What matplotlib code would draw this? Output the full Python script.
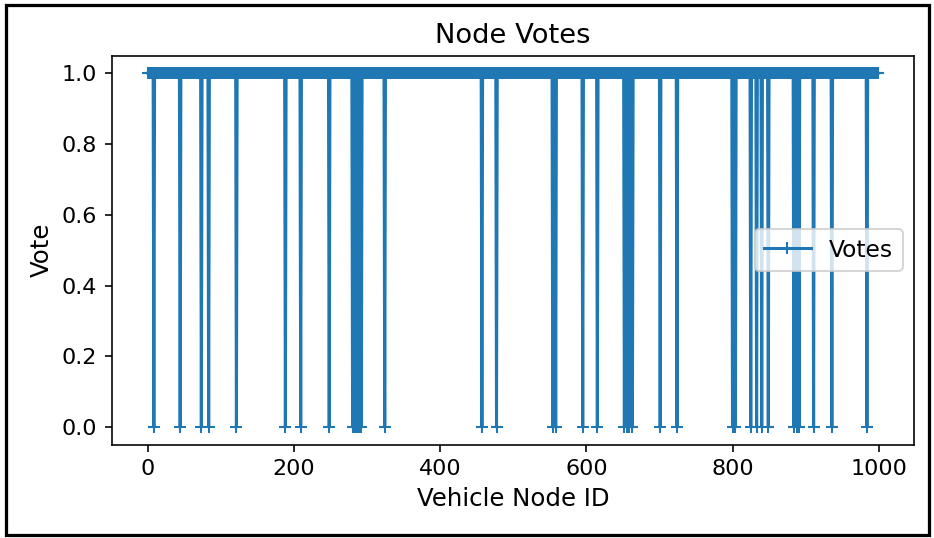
import numpy as np
import matplotlib
matplotlib.use("Agg")
import matplotlib.pyplot as plt
from matplotlib.patches import Rectangle

# node ids and the nodes that voted 0
node_ids = np.arange(1000)
zero_nodes = [8, 44, 73, 83, 121, 188, 209, 248, 280, 283, 286, 289, 292, 324,
              457, 477, 554, 558, 595, 615, 652, 656, 659, 663, 701, 724,
              800, 804, 825, 833, 840, 849, 884, 888, 891, 911, 936, 984]
votes = np.ones(len(node_ids))
votes[zero_nodes] = 0

plt.rcParams['xtick.labelsize'] = 11
plt.rcParams['ytick.labelsize'] = 11

fig = plt.figure(figsize=(934 / 146, 538 / 146), dpi=146)
ax = fig.add_axes([0.1194, 0.1734, 0.979 - 0.1194, 0.8967 - 0.1734])

ax.plot(node_ids, votes, marker='+', label='Votes')
ax.set_title('Node Votes', fontsize=13.5)
ax.set_xlabel('Vehicle Node ID', fontsize=12)
ax.set_ylabel('Vote', fontsize=12)
ax.legend(loc='center right', fontsize=11.5)

# black frame around the screenshot
fig.patches.append(Rectangle((0.006, 0.006), 0.989, 0.985, transform=fig.transFigure,
                             fill=False, edgecolor='black', linewidth=1.6))

fig.savefig('out.png', dpi=146)
